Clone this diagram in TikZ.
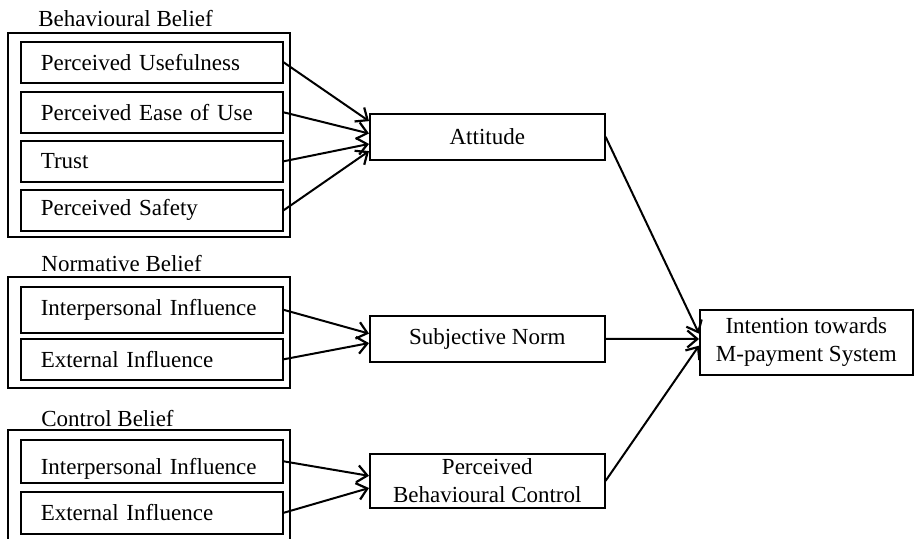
\documentclass[tikz,border=0pt]{standalone}
\usepackage{fontspec}
\setmainfont{Liberation Serif}
\usetikzlibrary{arrows.meta,calc,positioning}

\tikzset{
	belief/.style={draw,line width=0.8pt,anchor=north west,inner xsep=10pt,inner ysep=0pt,
		minimum width=131pt,minimum height=20.5pt,text width=111pt,align=left},
	construct/.style={draw,line width=0.8pt,anchor=north west,inner sep=0pt,
		minimum width=117.5pt,minimum height=23pt,align=center},
	group/.style={draw,line width=0.8pt},
	grouptitle/.style={anchor=base west,inner sep=0pt},
	conn/.style={line width=1pt,-{Straight Barb[length=5pt,width=8.5pt,line width=1.1pt]}}
}

\begin{document}
\begin{tikzpicture}[x=0.5pt,y=-0.5pt,font=\fontsize{11.5}{14}\selectfont]
					\useasboundingbox (0,0) rectangle (914,538);
					%GROUPS
					\draw[group] (8,33) rectangle (290,237);
					\draw[group] (8,277) rectangle (290,388);
					\draw[group] (8,430) rectangle (290,550);
					\node[grouptitle] (bbt) at (38,26) {Behavioural Belief};
					\node[grouptitle] (nbt) at (41,271) {Normative Belief};
					\node[grouptitle] (cbt) at (41,426) {Control Belief};
					%BELIEFS
					\node[belief] (pu) at (20,41) {Perceived Usefulness};
					\node[belief] (peou) at (20,91) {Perceived Ease of Use};
					\node[belief] (tr) at (20,140) {Trust};
					\node[belief] (ps) at (20,189) {Perceived Safety};
					\node[belief,minimum height=23pt] (nii) at (20,286) {Interpersonal Influence};
					\node[belief] (nei) at (20,338) {External Influence};
					\node[belief,minimum height=21.5pt] (cii) at (20,439) {\raisebox{-4pt}[\height][\depth]{Interpersonal Influence}};
					\node[belief,minimum height=21pt] (cei) at (20,491) {External Influence};
					%CONSTRUCTS
					\node[construct] (att) at (369,113) {Attitude};
					\node[construct] (sn) at (369,315) {Subjective Norm};
					\node[construct,minimum height=27pt] (pbc) at (369,453) {Perceived\\Behavioural Control};
					\node[construct,minimum width=106.5pt,minimum height=32.5pt] (int) at (699,309) {Intention towards\\M-payment System};
					%ARROWS
					\draw[conn] (pu.east) -- ($(att.north west)!0.17!(att.south west)$);
					\draw[conn] (peou.east) -- ($(att.north west)!0.43!(att.south west)$);
					\draw[conn] (tr.east) -- ($(att.north west)!0.65!(att.south west)$);
					\draw[conn] (ps.east) -- ($(att.north west)!0.8!(att.south west)$);
					\draw[conn] (nii.east) -- ($(sn.north west)!0.39!(sn.south west)$);
					\draw[conn] (nei.east) -- ($(sn.north west)!0.59!(sn.south west)$);
					\draw[conn] (cii.east) -- ($(pbc.north west)!0.41!(pbc.south west)$);
					\draw[conn] (cei.east) -- ($(pbc.north west)!0.63!(pbc.south west)$);
					\draw[conn] (att.east) -- ($(int.north west)!0.37!(int.south west)$);
					\draw[conn] (sn.east) -- ($(int.north west)!0.45!(int.south west)$);
					\draw[conn] (pbc.east) -- ($(int.north west)!0.55!(int.south west)$);
	  \end{tikzpicture}
\end{document}
